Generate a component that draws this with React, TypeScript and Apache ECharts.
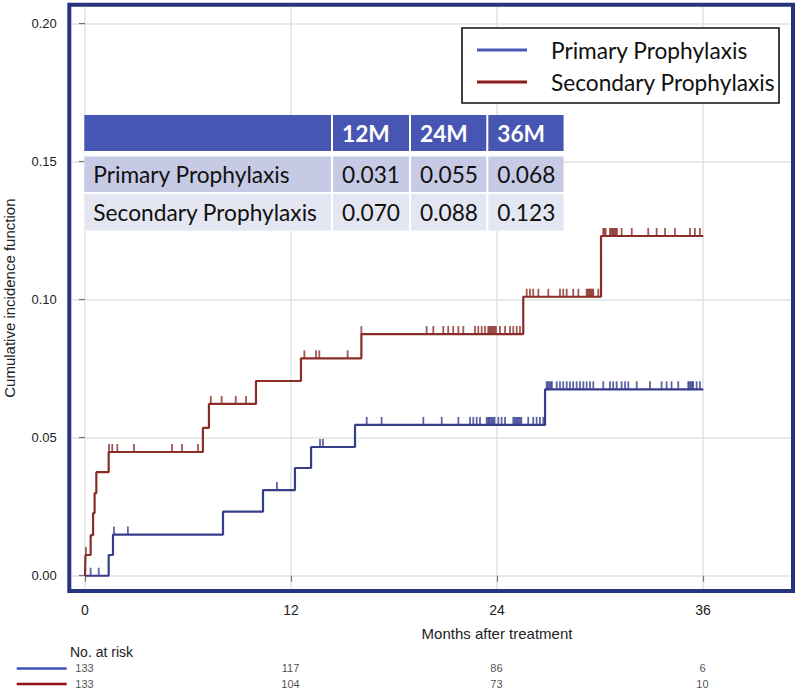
import React, { useEffect, useRef } from 'react';
import * as echarts from 'echarts';

// ---------- data ----------
const seriesNames = ['Primary Prophylaxis', 'Secondary Prophylaxis'];

const primaryStepTimes = [0, 1.38, 1.63, 8.04, 10.37, 12.23, 13.17, 15.73, 26.8, 36.02];
const primaryStepValues = [0, 0.0075, 0.0149, 0.0232, 0.031, 0.039, 0.0466, 0.0546, 0.0675, 0.0675];

const secondaryStepTimes = [0, 0.03, 0.33, 0.47, 0.56, 0.66, 1.38, 6.87, 7.22, 9.96, 12.58, 16.1, 25.53, 30.06, 36.02];
const secondaryStepValues = [0, 0.0075, 0.0147, 0.0227, 0.0299, 0.0375, 0.0448, 0.0535, 0.0622, 0.0705, 0.0787, 0.0875, 0.101, 0.123, 0.123];

const primaryCensor = [
  0.33, 0.8, 1.69, 2.5, 11.18, 13.69, 13.86, 16.41, 17.28, 19.71, 20.78, 21.75, 22.43, 22.62, 22.82,
  23.01, 23.4, 23.48, 23.55, 23.63, 23.71, 23.79, 23.86, 24.08, 24.27, 24.47, 24.95, 25.03, 25.11,
  25.18, 25.26, 25.34, 25.42, 25.82, 26.11, 26.31, 26.5, 26.7, 26.89, 26.97, 27.05, 27.13, 27.2,
  27.48, 27.67, 27.86, 28.06, 28.25, 28.44, 28.64, 28.83, 29.03, 29.22, 29.42, 29.61, 30.19, 30.58,
  30.77, 30.97, 31.26, 31.46, 31.65, 32.14, 32.91, 33.59, 33.88, 34.17, 34.56, 35.14, 35.21, 35.28,
  35.36, 35.43, 35.63, 35.82,
];

const secondaryCensor = [
  0.05, 1.4, 1.59, 1.88, 2.85, 5.07, 5.65, 6.58, 7.33, 7.96, 8.78, 9.38, 12.78, 13.46, 13.65, 15.3,
  16.1, 19.9, 20.29, 20.87, 21.16, 21.45, 21.75, 22.04, 22.72, 22.91, 23.11, 23.3, 23.49, 23.56,
  23.63, 23.71, 23.78, 23.86, 23.94, 24.17, 24.47, 24.76, 24.95, 25.15, 25.34, 25.73, 25.92, 26.11,
  26.41, 26.99, 27.67, 27.86, 28.06, 28.44, 28.74, 29.22, 29.29, 29.36, 29.42, 29.48, 29.55, 29.61,
  29.9, 30.19, 30.26, 30.33, 30.58, 30.65, 30.72, 30.79, 30.85, 30.92, 30.99, 31.26, 31.85, 32.81,
  33.3, 33.79, 34.37, 35.24, 35.53, 35.82,
];

const xTickValues = [0, 12, 24, 36];
const yTickValues = [0, 0.05, 0.1, 0.15, 0.2];

const riskTimes = [0, 12, 24, 36];
const riskPrimary = [133, 117, 86, 6];
const riskSecondary = [133, 104, 73, 10];

const tableHeaders = ['12M', '24M', '36M'];
const tablePrimary = ['0.031', '0.055', '0.068'];
const tableSecondary = ['0.070', '0.088', '0.123'];

// ---------- styles ----------
const CURVE_BLUE = '#363e8c';
const CURVE_RED = '#8a2d27';
const LEGEND_BLUE = '#4758b5';
const LEGEND_RED = '#8b1a1a';
const AXIS_FONT = '"Liberation Sans", Arial, sans-serif';
const TABLE_FONT = 'Lato, "Open Sans", sans-serif';
const TABLE_SIZE = 22.7;

function valueAt(times: number[], values: number[], t: number) {
  let v = values[0];
  for (let i = 0; i < times.length; i++) if (times[i] <= t) v = values[i];
  return v;
}

function buildTable(): any[] {
  const colX = [84.3, 333, 411, 488.3];
  const colW = [246.7, 76, 75.3, 75.3];
  const rowY = [115, 156.5, 194];
  const rowH = [36, 35.5, 36.5];
  const rowFill = ['#4756b2', '#c7cae4', '#e4e6f2'];
  const els: any[] = [];
  els.push({
    type: 'rect', z: 100,
    shape: { x: colX[0], y: rowY[0], width: colX[3] + colW[3] - colX[0], height: rowY[2] + rowH[2] - rowY[0] },
    style: { fill: '#ffffff' },
  });
  const rows = [
    ['', ...tableHeaders],
    [seriesNames[0], ...tablePrimary],
    [seriesNames[1], ...tableSecondary],
  ];
  rows.forEach((row, r) => {
    row.forEach((cell, c) => {
      els.push({
        type: 'rect', z: 101,
        shape: { x: colX[c], y: rowY[r], width: colW[c], height: rowH[r] },
        style: { fill: rowFill[r] },
      });
      if (cell) {
        els.push({
          type: 'text', z: 102,
          x: colX[c] + 9, y: rowY[r] + rowH[r] / 2,
          style: {
            text: cell,
            fontFamily: TABLE_FONT,
            fontSize: TABLE_SIZE,
            fontWeight: r === 0 ? 'bold' : 'normal',
            fill: r === 0 ? '#ffffff' : '#111111',
            align: 'left',
            verticalAlign: 'middle',
          },
        });
      }
    });
  });
  return els;
}

export default function App() {
  const ref = useRef<HTMLDivElement>(null);
  useEffect(() => {
    const chart = echarts.init(ref.current!, null, { renderer: 'svg' });

    const stepData = (times: number[], values: number[]) => times.map((t, i) => [t, values[i]]);
    const censorData = (cens: number[], times: number[], values: number[]) =>
      cens.map((t) => [t, valueAt(times, values, t)]);

    const gridLeft = 67.83;
    const gridWidth = 722.7;

    const riskLabel = {
      show: true, position: [0, 0], align: 'center', verticalAlign: 'middle',
      fontFamily: AXIS_FONT, fontSize: 11, color: '#1a1a1a', textBorderWidth: 0,
      formatter: (p: any) => String(p.value[2]),
    };

    const option: any = {
      animation: false,
      backgroundColor: '#ffffff',
      grid: [
        { left: gridLeft, top: 4, width: gridWidth, height: 588.3, outerBoundsMode: 'none', containLabel: false },
        { left: gridLeft, top: 660, width: gridWidth, height: 32, outerBoundsMode: 'none', containLabel: false },
      ],
      xAxis: [
        {
          type: 'value', gridIndex: 0, min: -1, max: 41.1,
          axisLine: { show: false },
          axisTick: { show: true, length: 6, customValues: xTickValues, lineStyle: { color: '#777', width: 1.2 } },
          axisLabel: {
            customValues: xTickValues, margin: 11, fontFamily: AXIS_FONT, fontSize: 14, color: '#222',
            formatter: (v: number) => String(v),
          },
          splitLine: { show: true, lineStyle: { color: '#e2e2e2', width: 1.5 } },
        },
        { type: 'value', gridIndex: 1, min: -1, max: 41.1, show: false },
      ],
      yAxis: [
        {
          type: 'value', gridIndex: 0, min: -0.006, max: 0.207,
          name: 'Cumulative incidence function', nameLocation: 'middle', nameGap: 51,
          nameTextStyle: { fontFamily: AXIS_FONT, fontSize: 15, color: '#222' },
          axisLine: { show: false },
          axisTick: { show: true, length: 6, customValues: yTickValues, lineStyle: { color: '#777', width: 1.2 } },
          axisLabel: {
            customValues: yTickValues, margin: 11, fontFamily: AXIS_FONT, fontSize: 13, color: '#222',
            formatter: (v: number) => v.toFixed(2),
          },
          splitLine: { show: true, lineStyle: { color: '#e2e2e2', width: 1.5 } },
        },
        { type: 'value', gridIndex: 1, min: -0.5, max: 1.5, inverse: true, show: false },
      ],
      legend: {
        data: [
          { name: seriesNames[0], itemStyle: { color: LEGEND_BLUE } },
          { name: seriesNames[1], itemStyle: { color: LEGEND_RED } },
        ],
        orient: 'vertical', left: 477, top: 37, padding: 0,
        icon: 'rect', itemWidth: 50, itemHeight: 3, itemGap: 6,
        selectedMode: false, z: 110,
        textStyle: { fontFamily: TABLE_FONT, fontSize: TABLE_SIZE, color: '#111', lineHeight: 26, padding: [0, 0, 0, 19] },
      },
      series: [
        {
          name: seriesNames[0], type: 'line', step: 'end', xAxisIndex: 0, yAxisIndex: 0,
          data: stepData(primaryStepTimes, primaryStepValues),
          showSymbol: false, symbol: 'none',
          lineStyle: { color: CURVE_BLUE, width: 2.2 }, itemStyle: { color: CURVE_BLUE },
          z: 3,
        },
        {
          name: seriesNames[1], type: 'line', step: 'end', xAxisIndex: 0, yAxisIndex: 0,
          data: stepData(secondaryStepTimes, secondaryStepValues),
          showSymbol: false, symbol: 'none',
          lineStyle: { color: CURVE_RED, width: 2.2 }, itemStyle: { color: CURVE_RED },
          z: 3,
        },
        {
          name: 'primary-censor', type: 'scatter', xAxisIndex: 0, yAxisIndex: 0,
          data: censorData(primaryCensor, primaryStepTimes, primaryStepValues),
          symbol: 'rect', symbolSize: [1.8, 8], symbolOffset: [0, -4],
          itemStyle: { color: CURVE_BLUE }, z: 4, silent: true,
        },
        {
          name: 'secondary-censor', type: 'scatter', xAxisIndex: 0, yAxisIndex: 0,
          data: censorData(secondaryCensor, secondaryStepTimes, secondaryStepValues),
          symbol: 'rect', symbolSize: [1.8, 8], symbolOffset: [0, -4],
          itemStyle: { color: CURVE_RED }, z: 4, silent: true,
        },
        {
          name: 'risk-primary', type: 'scatter', xAxisIndex: 1, yAxisIndex: 1,
          data: riskTimes.map((t, i) => [t, 0, riskPrimary[i]]),
          symbolSize: 1, itemStyle: { color: 'transparent' }, silent: true,
          label: riskLabel,
        },
        {
          name: 'risk-secondary', type: 'scatter', xAxisIndex: 1, yAxisIndex: 1,
          data: riskTimes.map((t, i) => [t, 1, riskSecondary[i]]),
          symbolSize: 1, itemStyle: { color: 'transparent' }, silent: true,
          label: riskLabel,
        },
      ],
      graphic: [
        {
          type: 'rect', z: 100,
          shape: { x: 462, y: 28, width: 317, height: 75 },
          style: { fill: '#ffffff', stroke: '#111111', lineWidth: 1.6 },
        },
        ...buildTable(),
        {
          type: 'rect', z: 120,
          shape: { x: 69.3, y: 4.7, width: 723.7, height: 586.3 },
          style: { fill: 'none', stroke: '#28337e', lineWidth: 4 },
        },
        {
          type: 'text', z: 100, x: 497, y: 633,
          style: {
            text: 'Months after treatment', fontFamily: AXIS_FONT, fontSize: 15, fill: '#222',
            align: 'center', verticalAlign: 'middle',
          },
        },
        {
          type: 'text', z: 100, x: 70, y: 651.5,
          style: {
            text: 'No. at risk', fontFamily: AXIS_FONT, fontSize: 14, fill: '#222',
            align: 'left', verticalAlign: 'middle',
          },
        },
        {
          type: 'line', z: 100,
          shape: { x1: 16.7, y1: 668.5, x2: 66.7, y2: 668.5 },
          style: { stroke: '#3b53b8', lineWidth: 2.5 },
        },
        {
          type: 'line', z: 100,
          shape: { x1: 16.7, y1: 684, x2: 66.7, y2: 684 },
          style: { stroke: '#8f1010', lineWidth: 2.5 },
        },
      ],
    };

    chart.setOption(option);
    return () => chart.dispose();
  }, []);

  return (
    <div
      ref={ref}
      style={{ position: 'absolute', left: 0, top: 0, width: 798, height: 691, background: '#ffffff' }}
    />
  );
}
